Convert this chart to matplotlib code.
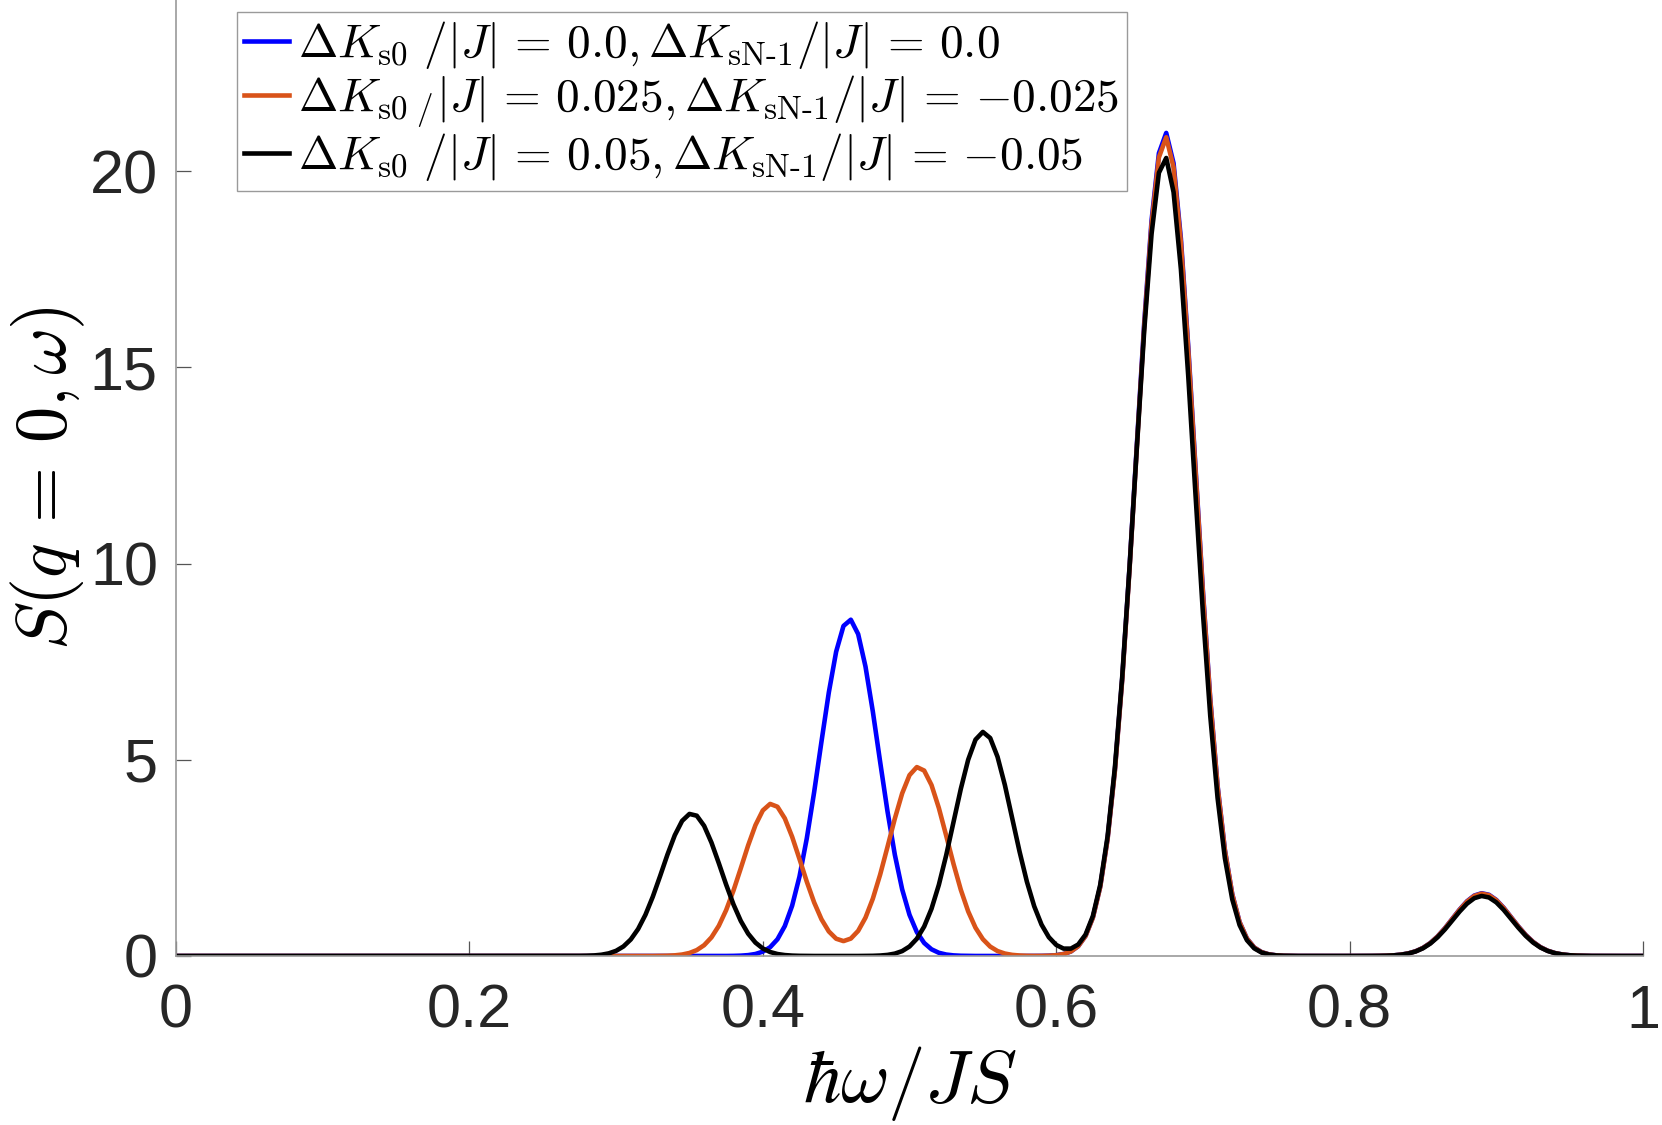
import numpy as np
import matplotlib
matplotlib.use("Agg")
import matplotlib.pyplot as plt

plt.rcParams['mathtext.fontset'] = 'cm'
plt.rcParams['font.family'] = ['Liberation Sans', 'DejaVu Sans']

# mode energies (hbar*omega/JS) and peak heights
omega_a = [0.459, 0.6745, 0.8905]
height_a = [8.58, 20.98, 1.60]
omega_b = [0.406, 0.506, 0.6745, 0.8905]
height_b = [3.88, 4.82, 20.87, 1.59]
omega_c = [0.3515, 0.5503, 0.674, 0.8905]
height_c = [3.63, 5.71, 20.36, 1.53]
broadening = 0.0200

labels = [
    r'$\Delta K_{\rm s0}\ /|J|\,=\,0.0, \Delta K_{\rm sN\text{-}1}/|J|\,=\,0.0$',
    r'$\Delta K_{\rm s0\ /}|J|\,=\,0.025, \Delta K_{\rm sN\text{-}1}/|J|\,=\,{-}0.025$',
    r'$\Delta K_{\rm s0}\ /|J|\,=\,0.05, \Delta K_{\rm sN\text{-}1}/|J|\,=\,{-}0.05$',
]
colors = ['#0000ff', '#d95319', '#000000']

w = np.linspace(0, 1, 201)


def spectrum(centers, heights):
    s = np.zeros_like(w)
    for c, h in zip(centers, heights):
        s += h * np.exp(-(w - c) ** 2 / (2 * broadening ** 2))
    return s


fig = plt.figure(figsize=(16.62, 11.25), dpi=100)
ax = fig.add_axes([176 / 1662, 1 - 956 / 1125, (1643 - 176) / 1662, 956 / 1125])

for (cs, hs), col, lab in zip([(omega_a, height_a), (omega_b, height_b), (omega_c, height_c)],
                               colors, labels):
    ax.plot(w, spectrum(cs, hs), color=col, lw=3.3, label=lab)

ax.set_xlim(0, 1)
ax.set_ylim(0, 24.36)
ax.set_xticks([0, 0.2, 0.4, 0.6, 0.8, 1])
ax.set_xticklabels(['0', '0.2', '0.4', '0.6', '0.8', '1'])
ax.set_yticks([0, 5, 10, 15, 20])

for side in ['top', 'right']:
    ax.spines[side].set_visible(False)
for side in ['left', 'bottom']:
    ax.spines[side].set_color('#9a9a9a')
    ax.spines[side].set_linewidth(1.2)

ax.tick_params(axis='both', direction='in', length=10.5, width=0.9, color='#555555',
               labelsize=44, labelcolor='#262626')
ax.tick_params(axis='x', pad=20)
ax.tick_params(axis='y', pad=13)

ax.set_xlabel(r'$\hbar\omega/JS$', fontsize=54, labelpad=2)
ax.set_ylabel(r'$S(q\,=\,0,\omega)$', fontsize=52, labelpad=2)

leg = ax.legend(loc='upper left', bbox_to_anchor=(237 / 1662, 1 - 12 / 1125),
                bbox_transform=fig.transFigure, borderaxespad=0, fontsize=34,
                handlelength=0.95, handletextpad=0.2, borderpad=0.15,
                labelspacing=0.05, fancybox=False, framealpha=1)
leg.get_frame().set_edgecolor('#9a9a9a')
leg.get_frame().set_linewidth(1.0)

fig.savefig('out.png', dpi=100)
